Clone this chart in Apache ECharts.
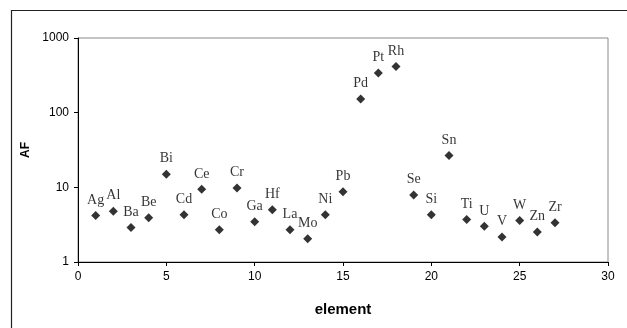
<!DOCTYPE html>
<html>
<head>
<meta charset="utf-8">
<script src="https://cdn.jsdelivr.net/npm/echarts@6/dist/echarts.min.js"></script>
<style>
  html, body { margin: 0; padding: 0; background: #fff; }
  #chart { width: 627px; height: 328px; }
</style>
</head>
<body>
<div id="chart"></div>
<script>
'use strict';
// AF per element — log scatter with element symbols as point labels

const ELEMENTS = ['Ag', 'Al', 'Ba', 'Be', 'Bi', 'Cd', 'Ce', 'Co', 'Cr', 'Ga', 'Hf', 'La', 'Mo', 'Ni', 'Pb',
  'Pd', 'Pt', 'Rh', 'Se', 'Si', 'Sn', 'Ti', 'U', 'V', 'W', 'Zn', 'Zr'];
const ELEMENT_IDX = [1, 2, 3, 4, 5, 6, 7, 8, 9, 10, 11, 12, 13, 14, 15,
  16, 17, 18, 19, 20, 21, 22, 23, 24, 25, 26, 27];
const AF_VALUES = [4.2, 4.8, 2.9, 3.9, 15, 4.3, 9.4, 2.7, 9.8, 3.45, 5.0, 2.7, 2.05, 4.3, 8.7,
  153, 340, 415, 7.9, 4.3, 26.7, 3.7, 3.0, 2.17, 3.6, 2.53, 3.35];
const X_TICKS = { min: 0, max: 30, step: 5 };
const Y_TICKS = { min: 1, max: 1000 };

const AXIS_FONT = "'Liberation Sans', Arial, sans-serif";
const LABEL_FONT = "'Liberation Serif', 'Times New Roman', serif";

const points = ELEMENT_IDX.map((x, i) => ({ name: ELEMENTS[i], value: [x, AF_VALUES[i]] }));

const chart = echarts.init(document.getElementById('chart'));
chart.setOption({
  animation: false,
  graphic: [{
    type: 'rect', silent: true, z: -1,
    shape: { x: 11.5, y: 10.5, width: 700, height: 400 },
    style: { fill: 'none', stroke: '#222', lineWidth: 1.2 }
  }],
  grid: { left: 78, top: 38, right: 19, bottom: 66, show: true, borderColor: '#8a8a8a', borderWidth: 1, backgroundColor: 'transparent' },
  xAxis: {
    type: 'value', min: X_TICKS.min, max: X_TICKS.max, interval: X_TICKS.step,
    name: 'element', nameLocation: 'middle', nameGap: 40,
    nameTextStyle: { fontFamily: AXIS_FONT, fontWeight: 'bold', fontSize: 15, color: '#000' },
    axisLine: { show: true, onZero: false, lineStyle: { color: '#000', width: 1 } },
    axisTick: { show: true, inside: false, length: 4, lineStyle: { color: '#000' } },
    axisLabel: { fontFamily: AXIS_FONT, fontSize: 12, color: '#000', margin: 9 },
    splitLine: { show: false }
  },
  yAxis: {
    type: 'log', logBase: 10, min: Y_TICKS.min, max: Y_TICKS.max,
    name: 'AF', nameLocation: 'middle', nameRotate: 90, nameGap: 44,
    nameTextStyle: { fontFamily: AXIS_FONT, fontWeight: 'bold', fontSize: 12, color: '#000' },
    axisLine: { show: true, lineStyle: { color: '#000', width: 1 } },
    axisTick: { show: true, inside: false, length: 4, lineStyle: { color: '#000' } },
    axisLabel: { fontFamily: AXIS_FONT, fontSize: 12, color: '#000', margin: 9, formatter: v => String(v) },
    splitLine: { show: false }
  },
  series: [{
    type: 'scatter',
    symbol: 'diamond',
    symbolSize: 9,
    itemStyle: { color: '#000' },
    label: {
      show: true, position: 'top', distance: 4,
      formatter: p => p.name,
      fontFamily: LABEL_FONT, fontSize: 14, color: '#000'
    },
    data: points
  }]
});
</script>
</body>
</html>
